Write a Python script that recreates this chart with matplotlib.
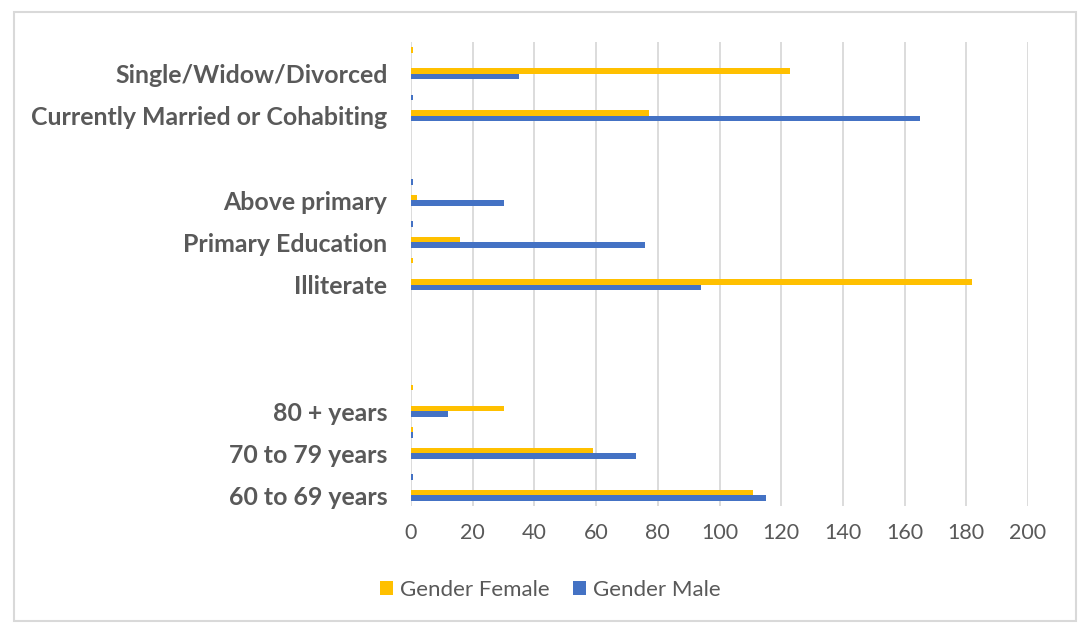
import matplotlib.pyplot as plt
import numpy as np

# 22 categories from bottom to top; Excel only printed every other label
labels = ['60 to 69 years', '', '70 to 79 years', '', '80 + years', '',
          '', '', '', '',
          'Illiterate', '', 'Primary Education', '', 'Above primary', '',
          '', '',
          'Currently Married or Cohabiting', '', 'Single/Widow/Divorced', '']
female = [111, 0, 59, 0.5, 30, 0.5,
          0, 0, 0, 0,
          182, 0.5, 16, 0, 2, 0,
          0, 0,
          77, 0, 123, 0.5]
male = [115, 0.5, 73, 0.5, 12, 0,
        0, 0, 0, 0,
        94, 0, 76, 0.5, 30, 0.5,
        0, 0,
        165, 0.5, 35, 0]

YELLOW = '#FFC000'
BLUE = '#4472C4'
GREY = '#595959'

plt.rcParams['font.family'] = ['Lato', 'DejaVu Sans']

fig = plt.figure(figsize=(10.82, 6.23), dpi=100)
ax = fig.add_axes([411 / 1082, 1 - 506 / 623, 617 / 1082, 464 / 623])

y = np.arange(len(labels))
h = 0.26
ax.barh(y + h / 2, female, height=h, color=YELLOW, label='Gender Female', zorder=3)
ax.barh(y - h / 2, male, height=h, color=BLUE, label='Gender Male', zorder=3)

ax.set_xlim(0, 200)
ax.set_ylim(-0.5, len(labels) - 0.5)
ax.set_xticks(range(0, 201, 20))
ax.set_yticks(y)
ax.set_yticklabels(labels, fontsize=17.9, fontweight='bold', color=GREY)
ax.tick_params(axis='y', length=0, pad=17)
ax.tick_params(axis='x', length=0, pad=12, labelsize=15.5, labelcolor=GREY)
ax.grid(axis='x', color='#d9d9d9', linewidth=1.3, zorder=0)
for s in ax.spines.values():
    s.set_visible(False)

leg = fig.legend(loc='center', bbox_to_anchor=(550 / 1082, 1 - 590 / 623), ncol=2,
                 frameon=False, fontsize=16, handlelength=0.6, handleheight=0.6,
                 columnspacing=1.05, handletextpad=0.3)
for t in leg.get_texts():
    t.set_color(GREY)

# light outer frame of the chart area
fig.patches.append(plt.Rectangle((14 / 1082, 1 - 621 / 623), 1062 / 1082, 609 / 623,
                                 transform=fig.transFigure, fill=False,
                                 edgecolor='#d9d9d9', linewidth=1.5))

fig.savefig('out.png', dpi=100)
